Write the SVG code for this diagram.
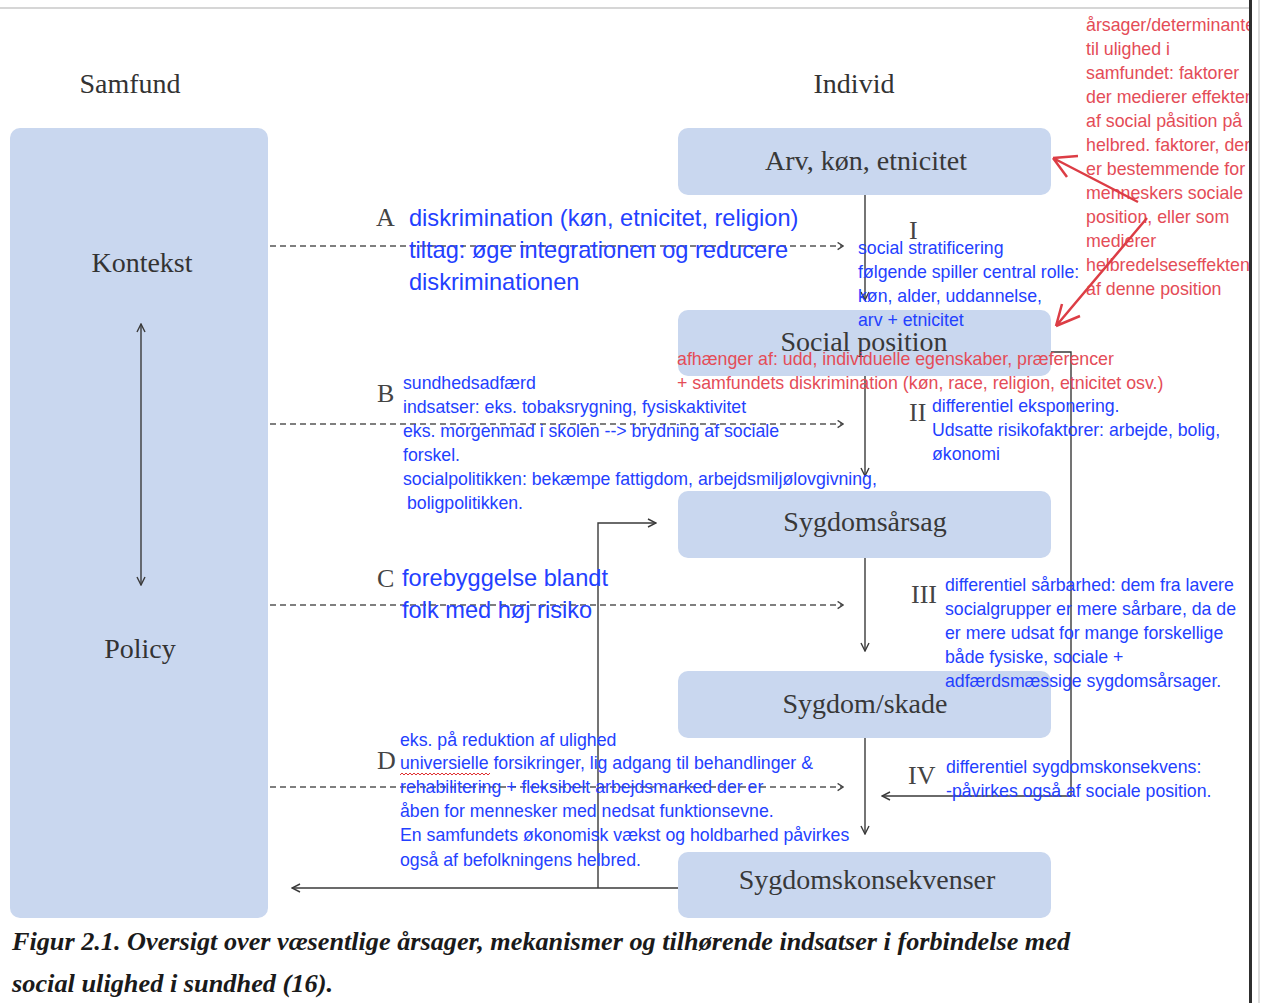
<svg xmlns="http://www.w3.org/2000/svg" width="1261" height="1003" viewBox="0 0 1261 1003">
  <style>
    .box { fill: #c9d7ef; }
    .lbl { font-family: "Liberation Serif", "DejaVu Serif", serif; font-size: 28px; fill: #383838; text-anchor: middle; }
    .head { font-family: "Liberation Serif", "DejaVu Serif", serif; font-size: 28px; fill: #333; text-anchor: middle; }
    .mark { font-family: "Liberation Serif", "DejaVu Serif", serif; font-size: 26px; fill: #444; }
    .blue { font-family: "Liberation Sans", Arial, sans-serif; font-size: 17.7px; fill: #2340ff; }
    .blue-l { font-family: "Liberation Sans", Arial, sans-serif; font-size: 23.6px; fill: #2340ff; }
    .red { font-family: "Liberation Sans", Arial, sans-serif; font-size: 17.8px; fill: #e44c57; }
    .cap { font-family: "Liberation Serif", "Times New Roman", serif; font-size: 25px; font-weight: bold; font-style: italic; fill: #1a1a1a; }
    .line { fill: none; stroke: #3a3a3a; stroke-width: 1.4; }
    .dash { fill: none; stroke: #555; stroke-width: 1.3; stroke-dasharray: 6 4; }
    .redline { fill: none; stroke: #dc3d45; stroke-width: 2.5; }
  </style>
  <defs>
    <marker id="arr" viewBox="0 0 10 10" refX="9" refY="5" markerWidth="10" markerHeight="10" markerUnits="userSpaceOnUse" orient="auto-start-reverse">
      <path d="M1 1 L9 5 L1 9" fill="none" stroke="#3a3a3a" stroke-width="1.4"/>
    </marker>
    <marker id="chev" viewBox="0 0 10 10" refX="9" refY="5" markerWidth="9" markerHeight="9" markerUnits="userSpaceOnUse" orient="auto">
      <path d="M3 1 L9 5 L3 9" fill="none" stroke="#444" stroke-width="1.5"/>
    </marker>
  </defs>

  <rect width="1261" height="1003" fill="#ffffff"/>
  <!-- page edge at top -->
  <line x1="0" y1="8" x2="1250" y2="8" stroke="#c8c8c8" stroke-width="1.5"/>

  <!-- column headings -->
  <text class="head" x="130" y="93">Samfund</text>
  <text class="head" x="854" y="93">Individ</text>

  <!-- society column -->
  <g id="node-samfund">
    <rect class="box" x="10" y="128" width="258" height="790" rx="10"/>
    <text class="head" x="142" y="272">Kontekst</text>
    <text class="head" x="140" y="658">Policy</text>
  </g>

  <!-- individual chain -->
  <g id="node-arv">
    <rect class="box" x="678" y="128" width="373" height="67" rx="10"/>
    <text class="lbl" x="866" y="170">Arv, køn, etnicitet</text>
  </g>
  <g id="node-social-position">
    <rect class="box" x="678" y="310" width="373" height="66" rx="10"/>
    <text class="lbl" x="864" y="351">Social position</text>
  </g>
  <g id="node-sygdomsarsag">
    <rect class="box" x="678" y="491" width="373" height="67" rx="10"/>
    <text class="lbl" x="865" y="531">Sygdomsårsag</text>
  </g>
  <g id="node-sygdom-skade">
    <rect class="box" x="678" y="671" width="373" height="67" rx="10"/>
    <text class="lbl" x="865" y="713">Sygdom/skade</text>
  </g>
  <g id="node-sygdomskonsekvenser">
    <rect class="box" x="678" y="852" width="373" height="66" rx="10"/>
    <text class="lbl" x="867" y="889">Sygdomskonsekvenser</text>
  </g>

  <!-- connectors -->
  <g id="connectors">
    <line class="line" x1="141" y1="324" x2="141" y2="585" marker-start="url(#arr)" marker-end="url(#arr)"/>
    <line class="line" x1="865" y1="195" x2="865" y2="300" marker-end="url(#arr)"/>
    <line class="line" x1="865" y1="376" x2="865" y2="476" marker-end="url(#arr)"/>
    <line class="line" x1="865" y1="558" x2="865" y2="651" marker-end="url(#arr)"/>
    <line class="line" x1="865" y1="738" x2="865" y2="834" marker-end="url(#arr)"/>
    <polyline class="line" points="1051,352 1071,352 1071,796 882,796" marker-end="url(#arr)"/>
    <line class="line" x1="678" y1="888" x2="292" y2="888" marker-end="url(#arr)"/>
    <polyline class="line" points="598,888 598,523 656,523" marker-end="url(#arr)"/>
    <line class="dash" x1="270" y1="246" x2="843" y2="246" marker-end="url(#chev)"/>
    <line class="dash" x1="270" y1="424" x2="843" y2="424" marker-end="url(#chev)"/>
    <line class="dash" x1="270" y1="605" x2="843" y2="605" marker-end="url(#chev)"/>
    <line class="dash" x1="270" y1="787" x2="843" y2="787" marker-end="url(#chev)"/>
  </g>

  <!-- intervention letters and mechanism numerals -->
  <text class="mark" x="376" y="226">A</text>
  <text class="mark" x="377" y="402">B</text>
  <text class="mark" x="377" y="587">C</text>
  <text class="mark" x="377" y="769">D</text>
  <text class="mark" x="909" y="239">I</text>
  <text class="mark" x="909" y="421">II</text>
  <text class="mark" x="911" y="603">III</text>
  <text class="mark" x="908" y="784">IV</text>

  <!-- notes on interventions -->
  <text class="blue-l" x="409" y="226">diskrimination (køn, etnicitet, religion)</text>
  <text class="blue-l" x="409" y="258">tiltag: øge integrationen og reducere</text>
  <text class="blue-l" x="409" y="290">diskriminationen</text>

  <text class="blue" x="858" y="254">social stratificering</text>
  <text class="blue" x="858" y="278">følgende spiller central rolle:</text>
  <text class="blue" x="858" y="302">køn, alder, uddannelse,</text>
  <text class="blue" x="858" y="326">arv + etnicitet</text>

  <text class="red" x="677" y="365">afhænger af: udd, individuelle egenskaber, præferencer</text>
  <text class="red" x="677" y="389">+ samfundets diskrimination (køn, race, religion, etnicitet osv.)</text>

  <text class="blue" x="403" y="389">sundhedsadfærd</text>
  <text class="blue" x="403" y="413">indsatser: eks. tobaksrygning, fysiskaktivitet</text>
  <text class="blue" x="403" y="437">eks. morgenmad i skolen --&gt; brydning af sociale</text>
  <text class="blue" x="403" y="461">forskel.</text>
  <text class="blue" x="403" y="485">socialpolitikken: bekæmpe fattigdom, arbejdsmiljølovgivning,</text>
  <text class="blue" x="407" y="509">boligpolitikken.</text>

  <text class="blue" x="932" y="412">differentiel eksponering.</text>
  <text class="blue" x="932" y="436">Udsatte risikofaktorer: arbejde, bolig,</text>
  <text class="blue" x="932" y="460">økonomi</text>

  <text class="blue-l" x="402" y="586">forebyggelse blandt</text>
  <text class="blue-l" x="402" y="618">folk med høj risiko</text>

  <text class="blue" x="945" y="591">differentiel sårbarhed: dem fra lavere</text>
  <text class="blue" x="945" y="615">socialgrupper er mere sårbare, da de</text>
  <text class="blue" x="945" y="639">er mere udsat for mange forskellige</text>
  <text class="blue" x="945" y="663">både fysiske, sociale +</text>
  <text class="blue" x="945" y="687">adfærdsmæssige sygdomsårsager.</text>

  <text class="blue" x="400" y="746">eks. på reduktion af ulighed</text>
  <text class="blue" x="400" y="769">universielle forsikringer, lig adgang til behandlinger &amp;</text>
  <path d="M400 775 l2 -2 l2 2 l2 -2 l2 2 l2 -2 l2 2 l2 -2 l2 2 l2 -2 l2 2 l2 -2 l2 2 l2 -2 l2 2 l2 -2 l2 2 l2 -2 l2 2 l2 -2 l2 2 l2 -2 l2 2 l2 -2 l2 2 l2 -2 l2 2 l2 -2 l2 2 l2 -2 l2 2 l2 -2 l2 2 l2 -2 l2 2 l2 -2 l2 2 l2 -2 l2 2 l2 -2 l2 2 l2 -2 l2 2 l2 -2 l2 2 l2 -2" fill="none" stroke="#e03030" stroke-width="1"/>
  <text class="blue" x="400" y="793">rehabilitering + fleksibelt arbejdsmarked der er</text>
  <text class="blue" x="400" y="817">åben for mennesker med nedsat funktionsevne.</text>
  <text class="blue" x="400" y="841">En samfundets økonomisk vækst og holdbarhed påvirkes</text>
  <text class="blue" x="400" y="866">også af befolkningens helbred.</text>

  <text class="blue" x="946" y="773">differentiel sygdomskonsekvens:</text>
  <text class="blue" x="946" y="797">-påvirkes også af sociale position.</text>

  <!-- side note on determinants -->
  <g id="note-determinants">
    <text class="red" x="1086" y="31">årsager/determinanter</text>
    <text class="red" x="1086" y="55">til ulighed i</text>
    <text class="red" x="1086" y="79">samfundet: faktorer</text>
    <text class="red" x="1086" y="103">der medierer effekten</text>
    <text class="red" x="1086" y="127">af social påsition på</text>
    <text class="red" x="1086" y="151">helbred. faktorer, der</text>
    <text class="red" x="1086" y="175">er bestemmende for</text>
    <text class="red" x="1086" y="199">menneskers sociale</text>
    <text class="red" x="1086" y="223">position, eller som</text>
    <text class="red" x="1086" y="247">medierer</text>
    <text class="red" x="1086" y="271">helbredelseseffekten</text>
    <text class="red" x="1086" y="295">af denne position</text>
    <path class="redline" d="M1138 202 L1053 158 M1053 158 L1078 156 M1053 158 L1067 177"/>
    <path class="redline" d="M1147 218 L1056 326 M1056 326 L1062 304 M1056 326 L1080 316"/>
  </g>

  <!-- right page edge -->
  <rect x="1252" y="0" width="9" height="1003" fill="#ffffff"/>
  <rect x="1249" y="0" width="3" height="1003" fill="#2e2e2e"/>
  <line x1="1259" y1="0" x2="1259" y2="1003" stroke="#bbb" stroke-width="1"/>

  <!-- caption -->
  <text class="cap" x="12" y="950" textLength="1058" lengthAdjust="spacingAndGlyphs">Figur 2.1. Oversigt over væsentlige årsager, mekanismer og tilhørende indsatser i forbindelse med</text>
  <text class="cap" x="12" y="992" textLength="321" lengthAdjust="spacingAndGlyphs">social ulighed i sundhed (16).</text>
</svg>
